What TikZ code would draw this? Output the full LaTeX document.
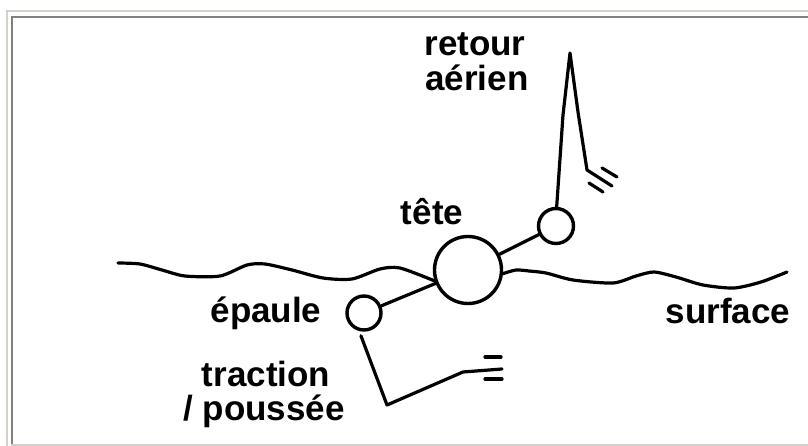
\documentclass[tikz,border=0pt]{standalone}
\usepackage{fontspec}
\setmainfont{Liberation Sans}
\begin{document}
\begin{tikzpicture}[x=1pt,y=-1pt,
  lbl/.style={font=\bfseries\fontsize{35}{35}\selectfont, inner sep=0pt, align=center},
  ring/.style={circle, draw, line width=3.4pt, inner sep=0pt},
  wire/.style={line width=3.2pt, line join=round, line cap=round},
  framelight/.style={draw={rgb,255:red,212;green,208;blue,200}, line width=2pt},
  framedark/.style={draw={rgb,255:red,128;green,128;blue,128}, line width=1.6pt}]
\useasboundingbox (0,0) rectangle (808,446);
% frame
\draw[framelight] (7,446) -- (7,11) -- (808,11);
\draw[framelight] (11,445) -- (808,445);
\draw[framedark] (11.8,444) -- (11.8,17) -- (808,17);
% bodies
\node[ring, minimum size=67pt] (head) at (468,270) {};
\node[ring, minimum size=34pt] (epaule) at (364,313) {};
\node[ring, minimum size=35pt] (retour) at (556,226) {};
% surface
\draw[wire] plot[smooth, tension=0.45] coordinates {(118,263) (140,264) (162,270) (185,276) (220,276) (247,265) (265,264) (292,270) (323,278) (352,279) (380,269) (400,268) (head.198)};
\draw[wire] plot[smooth, tension=0.45] coordinates {(head.354) (516,270) (529,271) (546,273) (573,280) (613,283) (636,276) (654,272) (676,277) (703,285) (734,288) (761,282) (787,272)};
% limbs
\draw[wire] (epaule) -- (head);
\draw[wire] (head) -- (retour);
% retour aerien (recovery arm)
\coordinate (tip) at (570,53);
\coordinate (elbow) at (587,170);
\coordinate (hand) at (612,186);
\draw[wire] (retour.88) -- (563,115) -- (tip) -- (578,112) -- (elbow) -- (hand);
\draw[wire] (602,168) -- (617,177);
\draw[wire] (589,183) -- (603,192);
% traction / poussee (underwater arm)
\coordinate (uelbow) at (387,405);
\coordinate (uhand) at (502,369);
\draw[wire, shorten <=5pt] (epaule.255) -- (uelbow) -- (463,372) -- (uhand);
\draw[wire] (485,357) -- (501,357);
\draw[wire] (485,379) -- (502,379);
% labels
\node[lbl, anchor=base] (tRetour) at (475,56) {retour};
\node[lbl, anchor=base] (tAerien) at (477,91) {aérien};
\node[lbl, anchor=base] (tTete) at (432,225) {tête};
\node[lbl, anchor=base] (tEpaule) at (266,322) {épaule};
\node[lbl, anchor=base] (tSurface) at (728,323) {surface};
\node[lbl, anchor=base] (tTraction) at (266,386) {traction};
\node[lbl, anchor=base] (tPoussee) at (264,420) {/ poussée};
\end{tikzpicture}
\end{document}
